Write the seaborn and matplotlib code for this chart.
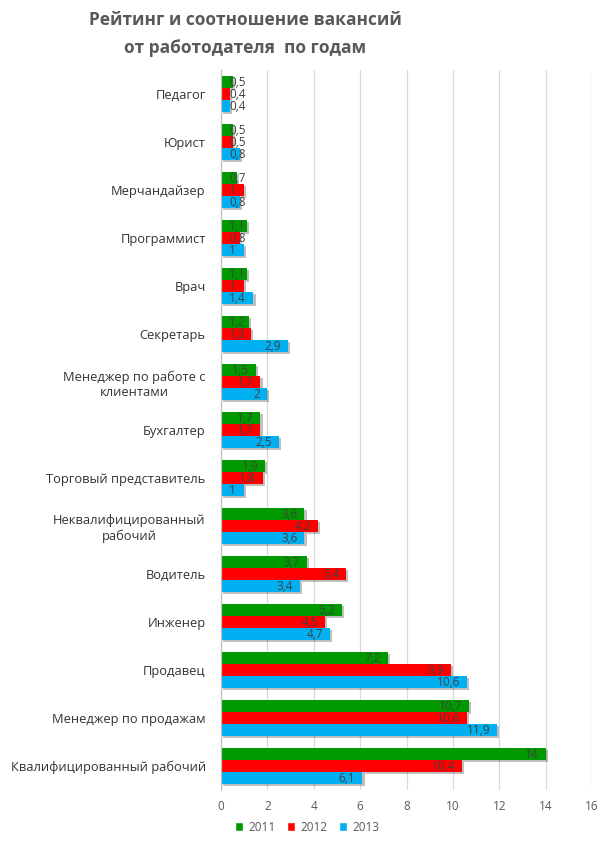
import numpy as np
import pandas as pd
import matplotlib
matplotlib.use('Agg')
import matplotlib.pyplot as plt
import matplotlib.patheffects as pe
from matplotlib.patches import Patch
import seaborn as sns

# Data (top to bottom as in the chart)
professions = ['Педагог', 'Юрист', 'Мерчандайзер', 'Программист', 'Врач', 'Секретарь',
               'Менеджер по работе с\nклиентами', 'Бухгалтер', 'Торговый представитель',
               'Неквалифицированный\nрабочий', 'Водитель', 'Инженер', 'Продавец',
               'Менеджер по продажам', 'Квалифицированный рабочий']
years = ['2011', '2012', '2013']
v2011 = [0.5, 0.5, 0.7, 1.1, 1.1, 1.2, 1.5, 1.7, 1.9, 3.6, 3.7, 5.2, 7.2, 10.7, 14]
v2012 = [0.4, 0.5, 1, 0.8, 1, 1.3, 1.7, 1.7, 1.8, 4.2, 5.4, 4.5, 9.9, 10.6, 10.4]
v2013 = [0.4, 0.8, 0.8, 1, 1.4, 2.9, 2, 2.5, 1, 3.6, 3.4, 4.7, 10.6, 11.9, 6.1]
colors = ['#009a00', '#ff0000', '#00b0f0']

df = pd.DataFrame({
    'profession': professions * 3,
    'year': [y for y in years for _ in professions],
    'value': v2011 + v2012 + v2013,
})

sns.set_theme(style='white')
plt.rcParams['font.family'] = ['Open Sans', 'DejaVu Sans']

fig = plt.figure(figsize=(6.16, 8.46), dpi=100)
ax = fig.add_axes([221 / 616, 1 - 790 / 846, 371 / 616, 720 / 846])

sns.barplot(data=df, x='value', y='profession', hue='year', order=professions,
            hue_order=years, palette=colors, orient='h', width=0.75,
            saturation=1, ax=ax, legend=False)

# soft drop shadow like the Excel original
shadow = [pe.SimplePatchShadow(offset=(1.5, -1.5), shadow_rgbFace='#000000', alpha=0.25),
          pe.Normal()]
for cont in ax.containers:
    for bar in cont.patches:
        bar.set_edgecolor('none')
        bar.set_path_effects(shadow)
        w = bar.get_width()
        yc = bar.get_y() + bar.get_height() / 2
        txt = f'{w:g}'.replace('.', ',')
        if w <= 1.4:
            ax.annotate(txt, (0, yc), xytext=(6, 0), textcoords='offset points',
                        ha='left', va='center', fontsize=8.5, color='#404040')
        else:
            ax.annotate(txt, (w, yc), xytext=(-5, 0), textcoords='offset points',
                        ha='right', va='center', fontsize=8.5, color='#404040')

ax.set_xlim(0, 16)
ax.set_xticks(np.arange(0, 17, 2))
ax.set_ylim(len(professions) - 0.5, -0.5)
ax.xaxis.grid(True, color='#d9d9d9', linewidth=0.9)
ax.yaxis.grid(False)
ax.set_axisbelow(True)
for s in ['top', 'right', 'bottom']:
    ax.spines[s].set_visible(False)
ax.spines['left'].set_color('#bfbfbf')
ax.spines['left'].set_linewidth(0.9)
ax.set_xlabel('')
ax.set_ylabel('')
ax.tick_params(axis='x', length=0, labelsize=8.5, labelcolor='#595959', pad=7)
ax.tick_params(axis='y', length=0, labelsize=9.3, labelcolor='#333333', pad=11)
for lbl in ax.get_yticklabels():
    lbl.set_multialignment('center')

fig.text(245 / 616, 1 - 20 / 846, 'Рейтинг и соотношение вакансий', ha='center', va='center',
         fontsize=12.5, fontweight='bold', color='#595959')
fig.text(245 / 616, 1 - 48 / 846, 'от работодателя  по годам', ha='center', va='center',
         fontsize=12.5, fontweight='bold', color='#595959')

handles = [Patch(facecolor=c, label=y) for c, y in zip(colors, years)]
fig.legend(handles=handles, loc='center', bbox_to_anchor=(307 / 616, 1 - 827 / 846), ncol=3,
           frameon=False, fontsize=8.5, handlelength=0.7, handleheight=0.7, handletextpad=0.4,
           columnspacing=1.0, labelcolor='#595959')

fig.savefig('out.png', dpi=100)
